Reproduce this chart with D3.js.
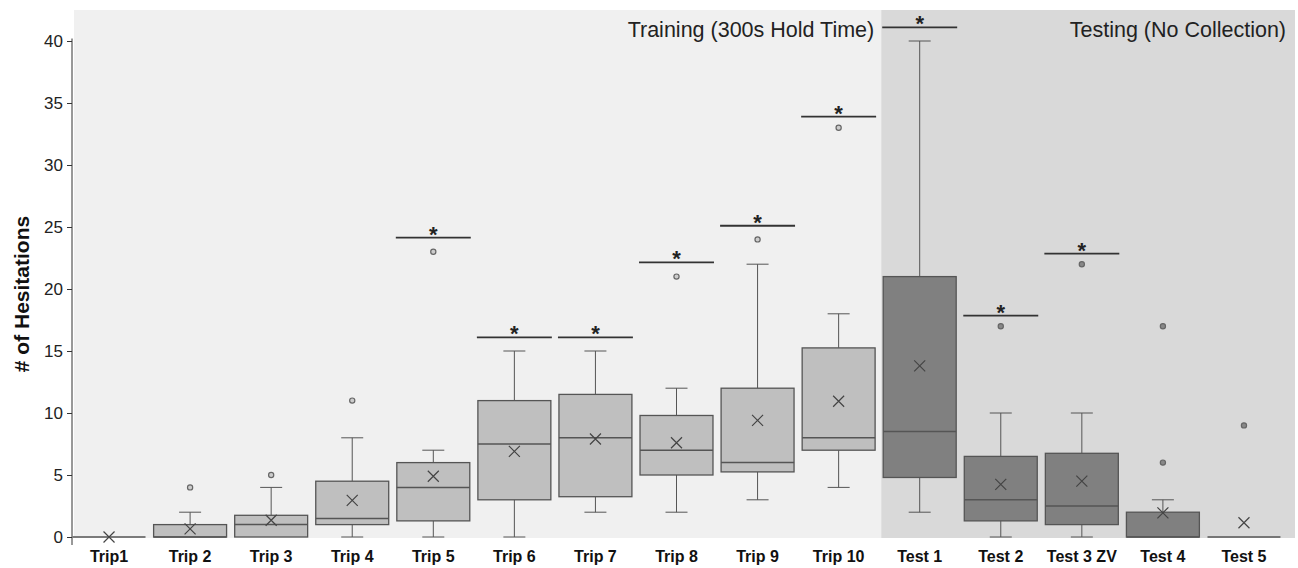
<!DOCTYPE html>
<html>
<head>
<meta charset="utf-8">
<script src="https://cdn.jsdelivr.net/npm/d3@7"></script>
<style>
  body { margin: 0; background: #fff; }
  text { font-family: "Liberation Sans", Arial, sans-serif; }
</style>
</head>
<body>
<div id="chart"></div>
<script>
// box plot summaries
const categories = ["Trip1", "Trip 2", "Trip 3", "Trip 4", "Trip 5", "Trip 6", "Trip 7", "Trip 8",
  "Trip 9", "Trip 10", "Test 1", "Test 2", "Test 3 ZV", "Test 4", "Test 5"];
const groups = ["train", "train", "train", "train", "train", "train", "train", "train",
  "train", "train", "test", "test", "test", "test", "test"];
const whiskerLow  = [0, 0, 0, 0,   0,   0,  2,   2,  3,    4,  2,   0, 0,    0, 0];
const q1          = [0, 0, 0, 1,   1.3, 3,  3.25, 5,  5.25, 7,  4.8, 1.3, 1,  0, 0];
const medians     = [0, 0, 1, 1.5, 4,   7.5, 8,   7,  6,    8,  8.5, 3,  2.5, 0, 0];
const q3          = [0, 1, 1.75, 4.5, 6, 11, 11.5, 9.8, 12, 15.25, 21, 6.5, 6.75, 2, 0];
const whiskerHigh = [0, 2, 4, 8,   7,   15, 15,  12, 22,   18, 40,  10, 10,  3, 0];
const means       = [0, 0.65, 1.35, 2.95, 4.9, 6.9, 7.9, 7.6, 9.4, 10.95, 13.8, 4.25, 4.5, 1.95, 1.15];
const outliers    = [[], [4], [5], [11], [23], [], [], [21], [24], [33], [], [17], [22], [17, 6], [9]];
const sigLines    = [null, null, null, null, 24.15, 16.1, 16.1, 22.15, 25.1, 33.9, 41.1, 17.85, 22.85, null, null];
const yTicks = [0, 5, 10, 15, 20, 25, 30, 35, 40];
const panelTitles = ["Training (300s Hold Time)", "Testing (No Collection)"];

const width = 1298, height = 568;
const colors = {
  train: { panel: "#f0f0f0", box: "#bfbfbf" },
  test:  { panel: "#d9d9d9", box: "#808080" }
};
const stroke = "#555";

const svg = d3.select("#chart").append("svg")
  .attr("width", width)
  .attr("height", height);

const x = d3.scaleBand()
  .domain(categories)
  .range([68.5, 1284.5])
  .paddingInner(0.1)
  .paddingOuter(0.05);

const y = d3.scaleLinear()
  .domain([0, 40])
  .range([537, 41]);

const cx = c => x(c) + x.bandwidth() / 2;

// panels
const splitX = x("Test 1") - 2;
svg.append("rect")
  .attr("x", 74).attr("y", 10)
  .attr("width", splitX - 74).attr("height", 528)
  .attr("fill", colors.train.panel);
svg.append("rect")
  .attr("x", splitX).attr("y", 10)
  .attr("width", 1295 - splitX).attr("height", 528)
  .attr("fill", colors.test.panel);

svg.append("text")
  .attr("x", splitX - 7).attr("y", 37)
  .attr("text-anchor", "end")
  .style("font-size", "21.5px")
  .attr("fill", "#222")
  .text(panelTitles[0]);
svg.append("text")
  .attr("x", 1286).attr("y", 37)
  .attr("text-anchor", "end")
  .style("font-size", "21.5px")
  .attr("fill", "#222")
  .text(panelTitles[1]);

// y axis
const yAxis = svg.append("g")
  .attr("transform", "translate(72,0)")
  .call(d3.axisLeft(y).tickValues(yTicks).tickSize(5).tickPadding(4));
yAxis.select(".domain").remove();
yAxis.selectAll(".tick line").attr("stroke", "#333");
yAxis.selectAll("text").style("font-size", "17px").attr("fill", "#222");
svg.append("line")
  .attr("x1", 72).attr("x2", 72)
  .attr("y1", y(40.2)).attr("y2", y(0) + 8)
  .attr("stroke", "#333");

svg.append("text")
  .attr("transform", "translate(29,294) rotate(-90)")
  .attr("text-anchor", "middle")
  .style("font-size", "21px")
  .style("font-weight", "bold")
  .attr("fill", "#111")
  .text("# of Hesitations");

// x axis labels
const xAxis = svg.append("g")
  .attr("transform", "translate(0," + y(0) + ")")
  .call(d3.axisBottom(x).tickSize(0).tickPadding(14));
xAxis.select(".domain").remove();
xAxis.selectAll("text")
  .style("font-size", "16px")
  .style("font-weight", "bold")
  .attr("fill", "#111");

// boxes
const data = categories.map((c, i) => ({
  cat: c, group: groups[i], lo: whiskerLow[i], q1: q1[i], med: medians[i], q3: q3[i],
  hi: whiskerHigh[i], mean: means[i], out: outliers[i], sig: sigLines[i]
}));

const capW = 22;
const boxes = svg.append("g").selectAll("g")
  .data(data)
  .enter()
  .append("g");

// whiskers
boxes.filter(d => d.hi > d.q3).append("line")
  .attr("x1", d => cx(d.cat)).attr("x2", d => cx(d.cat))
  .attr("y1", d => y(d.hi)).attr("y2", d => y(d.q3))
  .attr("stroke", stroke);
boxes.filter(d => d.hi > d.q3).append("line")
  .attr("x1", d => cx(d.cat) - capW / 2).attr("x2", d => cx(d.cat) + capW / 2)
  .attr("y1", d => y(d.hi)).attr("y2", d => y(d.hi))
  .attr("stroke", stroke);
boxes.filter(d => d.lo < d.q1).append("line")
  .attr("x1", d => cx(d.cat)).attr("x2", d => cx(d.cat))
  .attr("y1", d => y(d.q1)).attr("y2", d => y(d.lo))
  .attr("stroke", stroke);
boxes.filter(d => d.lo < d.q1).append("line")
  .attr("x1", d => cx(d.cat) - capW / 2).attr("x2", d => cx(d.cat) + capW / 2)
  .attr("y1", d => y(d.lo)).attr("y2", d => y(d.lo))
  .attr("stroke", stroke);

boxes.append("rect")
  .attr("x", d => x(d.cat))
  .attr("y", d => y(d.q3))
  .attr("width", x.bandwidth())
  .attr("height", d => y(d.q1) - y(d.q3))
  .attr("fill", d => colors[d.group].box)
  .attr("stroke", stroke)
  .attr("stroke-width", 1.3);

boxes.append("line")
  .attr("x1", d => x(d.cat)).attr("x2", d => x(d.cat) + x.bandwidth())
  .attr("y1", d => y(d.med)).attr("y2", d => y(d.med))
  .attr("stroke", stroke)
  .attr("stroke-width", 1.5);

// mean markers
boxes.append("path")
  .attr("d", d => {
    const px = cx(d.cat), py = y(d.mean), s = 5.5;
    return `M${px - s},${py - s}L${px + s},${py + s}M${px - s},${py + s}L${px + s},${py - s}`;
  })
  .attr("stroke", "#444")
  .attr("stroke-width", 1.2)
  .attr("fill", "none");

// outliers
boxes.selectAll("circle")
  .data(d => d.out.map(v => ({ cat: d.cat, group: d.group, v: v })))
  .enter()
  .append("circle")
  .attr("cx", d => cx(d.cat))
  .attr("cy", d => y(d.v))
  .attr("r", 2.6)
  .attr("fill", d => d.group === "test" ? "#888" : "#ccc")
  .attr("stroke", "#666")
  .attr("stroke-width", 1.2);

// significance markers
const sig = boxes.filter(d => d.sig !== null);
sig.append("line")
  .attr("x1", d => x(d.cat) - 1).attr("x2", d => x(d.cat) + x.bandwidth() + 1)
  .attr("y1", d => y(d.sig)).attr("y2", d => y(d.sig))
  .attr("stroke", "#333")
  .attr("stroke-width", 1.8);
sig.append("text")
  .attr("x", d => cx(d.cat))
  .attr("y", d => y(d.sig) + 4)
  .attr("text-anchor", "middle")
  .style("font-size", "22px")
  .style("font-weight", "bold")
  .attr("fill", "#222")
  .text("*");
</script>
</body>
</html>
